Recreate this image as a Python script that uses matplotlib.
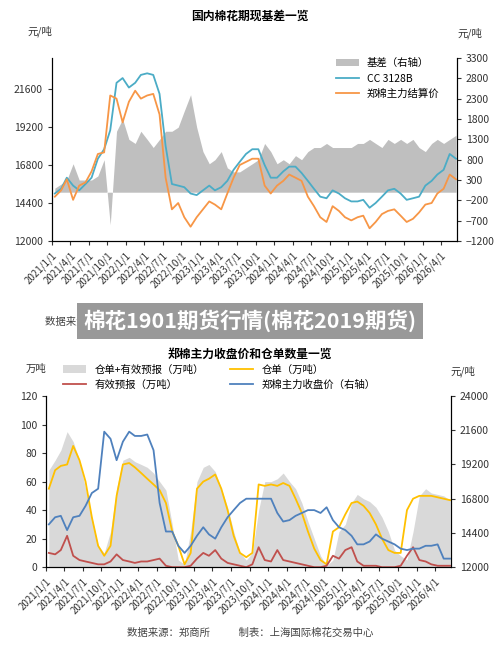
import matplotlib
matplotlib.use("Agg")
import matplotlib.pyplot as plt
import pandas as pd
import numpy as np

plt.rcParams['font.family'] = ['Noto Sans CJK SC', 'DejaVu Sans']

months = pd.date_range('2021-01-01', periods=66, freq='MS') + pd.Timedelta(days=14)
tick_dates = pd.date_range('2021-01-01', '2026-04-01', freq='3MS')
tick_labels = [f"{d.year}/{d.month}/1" for d in tick_dates]

# top chart
cc3128b = [15000,15300,16000,15500,15200,15600,16000,17200,17800,19000,22000,22300,
           21700,22000,22500,22600,22500,21300,18000,15600,15500,15400,15000,14900,
           15200,15500,15200,15400,15800,16500,17000,17500,17800,17800,16800,16000,
           16000,16400,16700,16700,16300,15800,15300,14800,14700,15200,15000,14700,
           14500,14500,14600,14100,14400,14800,15200,15300,15000,14600,14700,14800,
           15500,15800,16200,16500,17500,17200]
zc_settle = [14800,15200,15900,14600,15500,15700,16400,17500,17600,21200,21000,19500,
             20800,21500,21000,21200,21300,20000,16000,14000,14400,13500,12900,13500,
             14000,14500,14300,14000,15000,16000,16800,17000,17200,17200,15500,15000,
             15500,15800,16200,16000,15800,14800,14200,13500,13200,14200,13900,13500,
             13300,13500,13600,12800,13200,13700,13900,14000,13600,13200,13400,13800,
             14300,14400,15000,15300,16200,15900]
basis = [100,200,300,700,300,300,300,400,800,-800,1500,1800,
         1300,1200,1500,1300,1100,1300,1500,1500,1600,2000,2400,1600,
         1000,700,800,1000,600,500,500,600,700,800,1200,1000,
         700,800,700,900,800,1000,1100,1100,1200,1100,1100,1100,
         1100,1200,1200,1300,1200,1100,1300,1200,1300,1200,1300,1100,
         1000,1200,1300,1200,1300,1400]

# bottom chart
total = [68,75,82,95,88,75,55,35,15,10,25,55,
         75,77,74,72,70,66,60,54,30,5,2,25,
         60,70,72,67,55,42,25,10,5,10,40,60,
         60,62,66,60,55,45,32,20,8,1,5,25,
         30,45,51,48,46,42,35,25,12,8,5,25,
         50,55,52,51,50,47]
warrant = [55,68,71,72,85,75,60,35,15,8,15,50,
           72,73,70,66,62,58,54,45,25,15,2,10,
           55,60,62,65,55,40,22,10,7,10,58,57,
           58,57,59,57,48,38,25,13,5,2,25,28,
           37,45,46,43,38,30,20,12,10,10,40,48,
           50,50,50,49,48,47]
forecast = [10,9,12,22,8,5,4,3,2,2,4,9,
            5,4,3,4,4,5,6,1,0,0,0,1,
            6,10,8,12,6,3,2,1,0,2,14,5,
            4,12,5,4,3,2,1,0,0,1,8,6,
            12,14,4,1,1,1,0,0,0,1,8,14,
            5,4,2,1,1,1]
zc_close = [15000,15500,15600,14600,15500,15600,16300,17200,17500,21500,21000,19500,
            20800,21500,21200,21200,21300,20200,16500,14500,14500,13500,13000,13500,
            14200,14800,14300,14000,14800,15500,16000,16500,16800,16800,16800,16800,
            16800,15800,15200,15300,15600,15800,16000,16000,15800,16200,15300,14800,
            14600,14200,13600,13600,13800,14300,14000,13800,13600,13300,13200,13300,
            13300,13500,13500,13600,12600,12600]

fig = plt.figure(figsize=(5, 6.46), dpi=100)
xlim = (pd.Timestamp('2021-01-01'), pd.Timestamp('2026-06-20'))

def style(ax, axr):
    for a in (ax, axr):
        a.spines['top'].set_visible(False)
        a.tick_params(labelsize=7.5, colors='#333333', length=3)
    ax.set_xlim(*xlim)
    ax.set_xticks(tick_dates)
    ax.set_xticklabels(tick_labels, rotation=45, ha='right', rotation_mode='anchor', fontsize=7)

# ---- top
ax1 = fig.add_axes([0.104, 0.627, 0.81, 0.283])
ax1r = ax1.twinx()
ax1r.fill_between(months, 0, basis, color='#bfbfbf', lw=0, label='基差（右轴）')
ax1r.set_ylim(-1200, 3300)
ax1r.set_yticks(range(-1200, 3301, 500))
ax1.set_zorder(ax1r.get_zorder() + 1); ax1.patch.set_visible(False)
ax1.plot(months, cc3128b, color='#4bacc6', lw=1.3, label='CC 3128B')
ax1.plot(months, zc_settle, color='#f79646', lw=1.3, label='郑棉主力结算价')
ax1.set_ylim(12000, 23560)
ax1.set_yticks(range(12000, 21601, 2400))
style(ax1, ax1r)
h1, l1 = ax1r.get_legend_handles_labels()
h2, l2 = ax1.get_legend_handles_labels()
ax1.legend(h1 + h2, l1 + l2, loc='upper right', bbox_to_anchor=(0.98, 1.05), frameon=False, fontsize=7.5, handlelength=2.2)
fig.text(0.5, 0.975, '国内棉花期现基差一览', ha='center', va='center', fontsize=8.5, fontweight='bold')
fig.text(0.08, 0.952, '元/吨', ha='center', va='center', fontsize=7.5, color='#333333')
fig.text(0.94, 0.948, '元/吨', ha='center', va='center', fontsize=7.5, color='#333333')

fig.text(0.09, 0.502, '数据来源：郑商所                                   制表：上海国际棉花交易中心', ha='left', va='center', fontsize=7.5, color='#444444')
fig.text(0.5, 0.503, '棉花1901期货行情(棉花2019期货)', ha='center', va='center', fontsize=15.5, fontweight='bold', color='white',
         bbox=dict(boxstyle='square,pad=0.3', fc='#999999', ec='none'), zorder=10)

# ---- bottom
ax2 = fig.add_axes([0.092, 0.122, 0.81, 0.265])
ax2r = ax2.twinx()
ax2.fill_between(months, 0, total, color='#d9d9d9', lw=0, label='仓单+有效预报（万吨）')
ax2.plot(months, warrant, color='#ffc000', lw=1.3, label='仓单（万吨）')
ax2.plot(months, forecast, color='#c0504d', lw=1.3, label='有效预报（万吨）')
ax2r.plot(months, zc_close, color='#4f81bd', lw=1.3, label='郑棉主力收盘价（右轴）')
ax2.set_ylim(0, 120); ax2.set_yticks(range(0, 121, 20))
ax2r.set_ylim(12000, 24000); ax2r.set_yticks(range(12000, 24001, 2400))
style(ax2, ax2r)
h1, l1 = ax2.get_legend_handles_labels()
h2, l2 = ax2r.get_legend_handles_labels()
handles = [h1[0], h1[2], h1[1], h2[0]]
labels = [l1[0], l1[2], l1[1], l2[0]]
ax2.legend(handles, labels, ncol=2, loc='lower left', bbox_to_anchor=(0.02, 0.98), frameon=False, fontsize=7.5,
           handlelength=2.2, columnspacing=2.5)
fig.text(0.5, 0.451, '郑棉主力收盘价和仓单数量一览', ha='center', va='center', fontsize=8.5, fontweight='bold')
fig.text(0.072, 0.429, '万吨', ha='center', va='center', fontsize=7.5, color='#333333')
fig.text(0.926, 0.425, '元/吨', ha='center', va='center', fontsize=7.5, color='#333333')
fig.text(0.5, 0.021, '数据来源：郑商所            制表：上海国际棉花交易中心', ha='center', va='center', fontsize=7.5, color='#444444')

fig.savefig('out.png', dpi=100)
